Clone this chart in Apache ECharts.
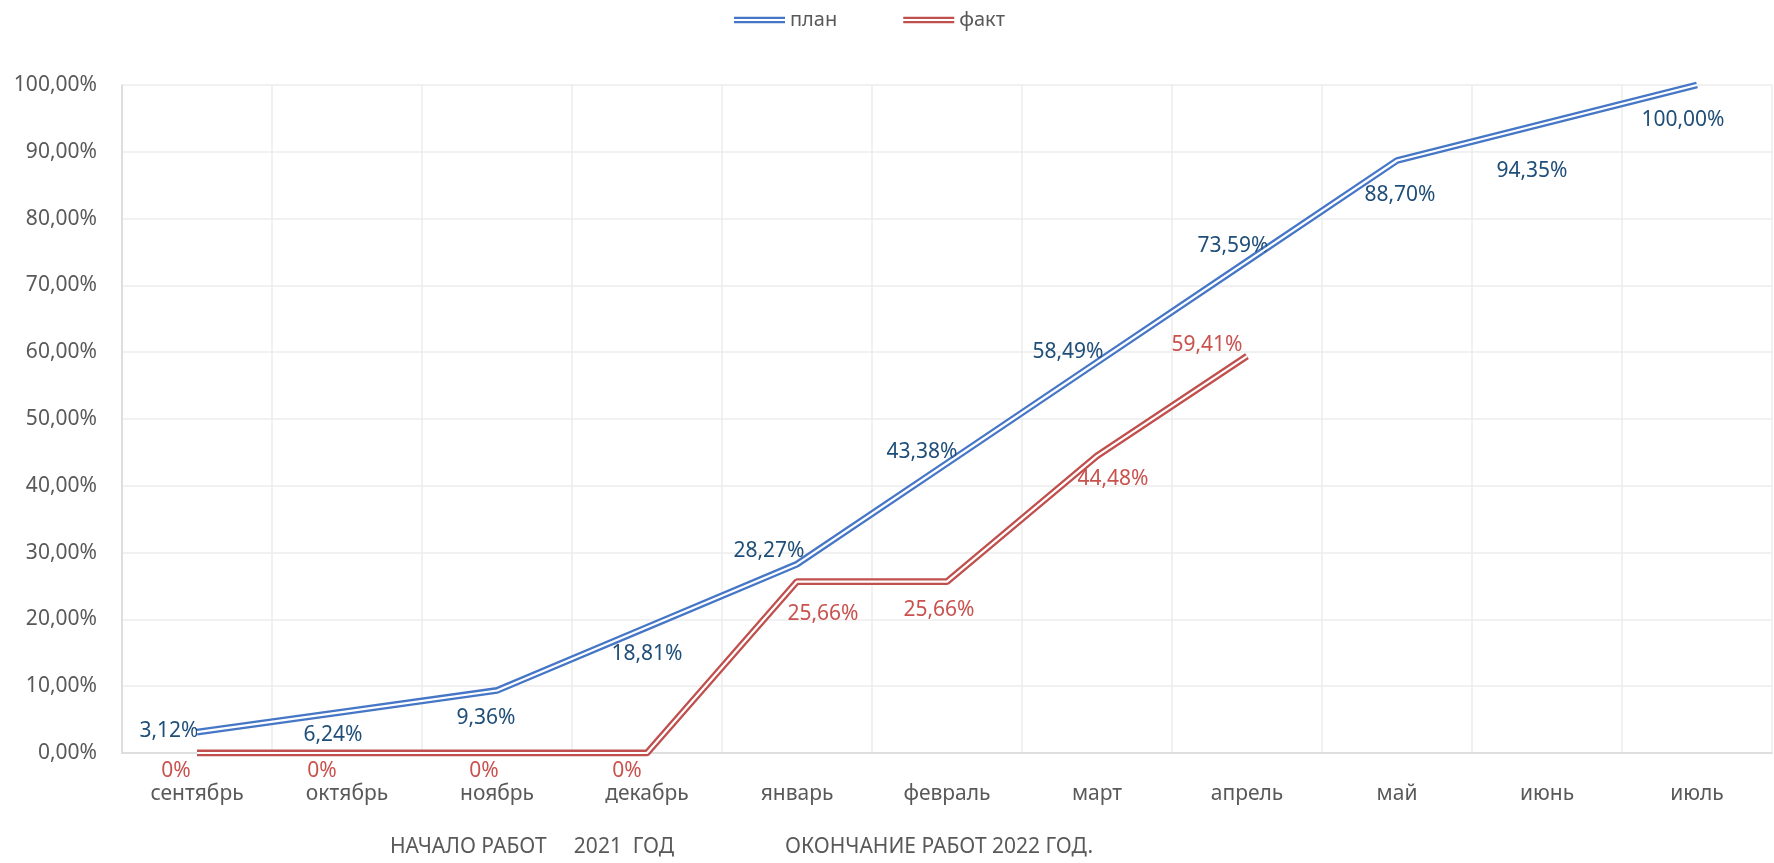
<!DOCTYPE html>
<html>
<head>
<meta charset="utf-8">
<title>план / факт</title>
</head>
<body style="margin:0;">
<div id="main" style="width:1774px;height:863px;"></div>
<script src="https://cdn.jsdelivr.net/npm/echarts@6/dist/echarts.min.js"></script>
<script>
// месяцы и значения (в процентах)
var months = ['сентябрь','октябрь','ноябрь','декабрь','январь','февраль','март','апрель','май','июнь','июль'];
var planVals = [3.12, 6.24, 9.36, 18.81, 28.27, 43.38, 58.49, 73.59, 88.70, 94.35, 100.00];
var factVals = [0, 0, 0, 0, 25.66, 25.66, 44.48, 59.41, null, null, null];
var yTicks = [0, 10, 20, 30, 40, 50, 60, 70, 80, 90, 100];

// сдвиги подписей относительно точки (как в исходной диаграмме)
var planOffsets = [[-28,-1],[-14,24],[-11,28],[0,27],[-28,-13],[-25,-11],[-29,-10],[-14,-15],[3,35],[-15,48],[-14,35]];
var factOffsets = [[-21,18],[-25,18],[-13,18],[-20,18],[26,32],[-8,28],[16,23],[-40,-11]];

var planColor = '#4677C6', factColor = '#C0504D';
var font = 'Noto Sans';

function fmt(v, zero) {
	if (v === 0 && zero) return '0%';
	return v.toFixed(2).replace('.', ',') + '%';
}

function withLabels(vals, offsets, color) {
	return vals.map(function (v, i) {
		if (v === null) return null;
		return {
			value: v,
			label: {
				show: true,
				position: 'inside',
				offset: offsets[i],
				formatter: fmt(v, true),
				color: color,
				fontSize: 21,
				fontFamily: font
			}
		};
	});
}

var doubleIcon = 'path://M0,0H50V2.2H0Z M0,4H50V6.2H0Z';

var myChart = echarts.init(document.getElementById('main'));
myChart.setOption({
	animation: false,
	textStyle: { fontFamily: font },
	legend: {
		top: 5,
		left: 729,
		itemWidth: 51,
		itemHeight: 7,
		itemGap: 66,
		data: [
			{ name: 'план', icon: doubleIcon, itemStyle: { color: planColor } },
			{ name: 'факт', icon: doubleIcon, itemStyle: { color: factColor } }
		],
		textStyle: { fontSize: 20, color: '#595959', fontFamily: font }
	},
	grid: { left: 122, right: 2, top: 85, bottom: 110 },
	xAxis: {
		type: 'category',
		data: months,
		boundaryGap: true,
		axisLine: { lineStyle: { color: '#D9D9D9', width: 1.5 } },
		axisTick: { show: false },
		axisLabel: { margin: 31, fontSize: 21, color: '#595959', fontFamily: font, interval: 0 },
		splitLine: { show: true, lineStyle: { color: '#EDEDED', width: 1.5 } }
	},
	yAxis: {
		type: 'value',
		min: yTicks[0],
		max: yTicks[yTicks.length - 1],
		interval: yTicks[1] - yTicks[0],
		axisLine: { show: true, lineStyle: { color: '#D9D9D9', width: 1.5 } },
		axisLabel: { margin: 25, fontSize: 21, color: '#595959', fontFamily: font,
			formatter: function (v) { return fmt(v, false); } },
		splitLine: { lineStyle: { color: '#EDEDED', width: 1.5 } }
	},
	series: [
		{
			name: 'план', type: 'line', symbol: 'circle', symbolSize: 1, showSymbol: true, z: 2,
			lineStyle: { color: planColor, width: 6.8 },
			itemStyle: { color: 'rgba(0,0,0,0)' },
			data: withLabels(planVals, planOffsets, '#1F4E79')
		},
		{
			name: 'план_', type: 'line', symbol: 'none', z: 3, silent: true,
			lineStyle: { color: '#ffffff', width: 2.2 },
			data: planVals
		},
		{
			name: 'факт', type: 'line', symbol: 'circle', symbolSize: 1, showSymbol: true, z: 2,
			lineStyle: { color: factColor, width: 6.8 },
			itemStyle: { color: 'rgba(0,0,0,0)' },
			data: withLabels(factVals, factOffsets, '#C9524E')
		},
		{
			name: 'факт_', type: 'line', symbol: 'none', z: 3, silent: true,
			lineStyle: { color: '#ffffff', width: 2.2 },
			data: factVals
		}
	],
	graphic: [
		{ type: 'text', left: 390, top: 837, style: { text: 'НАЧАЛО РАБОТ     2021  ГОД', fontSize: 21, fontFamily: font, fill: '#595959' } },
		{ type: 'text', left: 785, top: 837, style: { text: 'ОКОНЧАНИЕ РАБОТ 2022 ГОД.', fontSize: 21, fontFamily: font, fill: '#595959' } }
	]
});
</script>
</body>
</html>
